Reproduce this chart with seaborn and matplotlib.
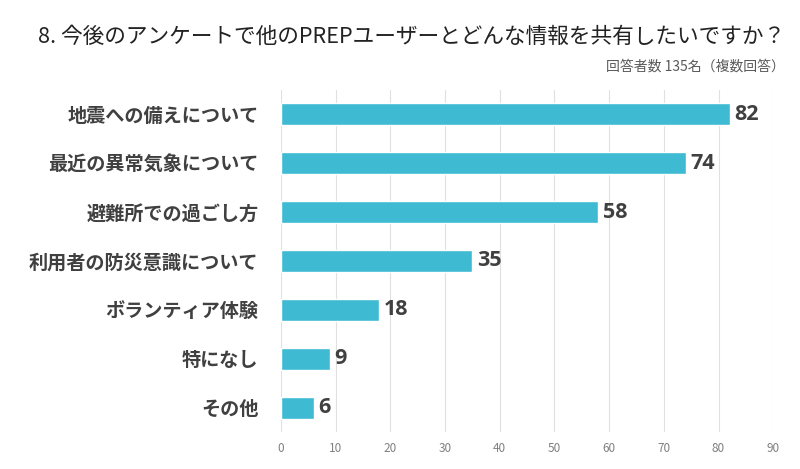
import matplotlib
matplotlib.use("Agg")
import matplotlib.pyplot as plt
import seaborn as sns
import pandas as pd

categories = ["地震への備えについて", "最近の異常気象について", "避難所での過ごし方",
              "利用者の防災意識について", "ボランティア体験", "特になし", "その他"]
counts = [82, 74, 58, 35, 18, 9, 6]
xticks = [0, 10, 20, 30, 40, 50, 60, 70, 80, 90]
title = "8. 今後のアンケートで他のPREPユーザーとどんな情報を共有したいですか？"
subtitle = "回答者数 135名（複数回答）"

sns.set_theme(style="white")
plt.rcParams['font.family'] = ['Noto Sans CJK JP', 'DejaVu Sans']

df = pd.DataFrame({"cat": categories, "n": counts})

fig = plt.figure(figsize=(8, 4.69), dpi=100)
ax = fig.add_axes([0.351, 0.079, 0.6156, 0.729])
sns.barplot(data=df, x="n", y="cat", orient="h", color="#3FBAD3", width=0.45,
            saturation=1, ax=ax, zorder=3)

ax.set_xlim(0, 90)
ax.set_ylim(6.5, -0.5)
ax.set_xticks(xticks)
ax.set_xticklabels([str(t) for t in xticks], fontsize=8.5, color="#808080")
ax.tick_params(axis="x", length=0, pad=7)
ax.tick_params(axis="y", length=0, pad=16)
for lab in ax.get_yticklabels():
    lab.set_fontsize(13.8)
    lab.set_fontweight("bold")
    lab.set_color("#404040")
ax.grid(axis="x", color="#E0E0E0", linewidth=0.8, zorder=0)
ax.grid(axis="y", visible=False)
for s in ax.spines.values():
    s.set_visible(False)
ax.set_xlabel("")
ax.set_ylabel("")

for i, v in enumerate(counts):
    ax.text(v + 0.8, i, str(v), va="center", ha="left", fontsize=15.5,
            fontweight="bold", color="#404040", family=["Open Sans", "DejaVu Sans"])

fig.text(0.981, 0.921, title, ha="right", va="center", fontsize=15.6, color="#222222")
fig.text(0.981, 0.859, subtitle, ha="right", va="center", fontsize=10.0, color="#595959")

fig.savefig("out.png", dpi=100)
